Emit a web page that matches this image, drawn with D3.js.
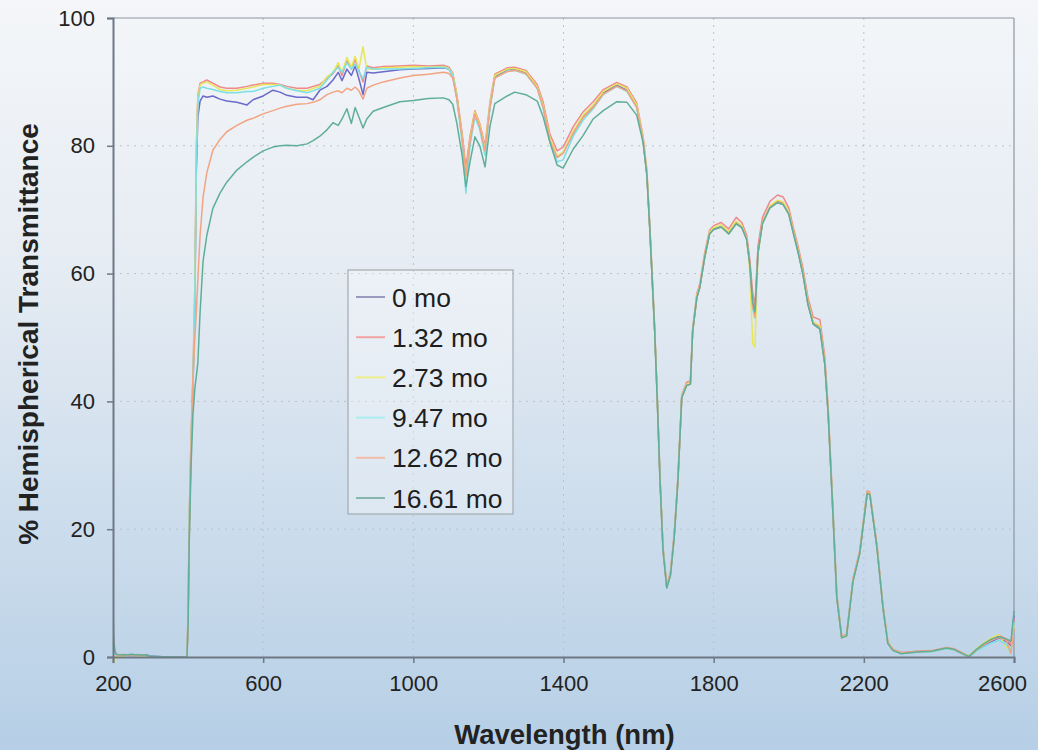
<!DOCTYPE html>
<html>
<head>
<meta charset="utf-8">
<script src="https://cdn.jsdelivr.net/npm/d3@7/dist/d3.min.js"></script>
<style>
  body { margin: 0; }
  svg { display: block; font-family: "Liberation Sans", Arial, sans-serif; }
</style>
</head>
<body>
<svg id="chart" width="1038" height="750"></svg>
<script>
// wavelengths (nm) shared by all series
const wl = [
  200, 202, 205, 210, 230, 250, 270, 290, 300, 350, 397,
  400, 403, 408, 413, 418, 422, 426, 432, 440, 450,
  466, 485, 503, 530, 557, 573, 600, 626, 645, 663,
  690, 717, 733, 751, 770, 786, 800, 810, 823, 835,
  845, 855, 866, 876, 893, 920, 964, 1000, 1040, 1080,
  1095,
  1105, 1116, 1130, 1140, 1151, 1164, 1177, 1191, 1204, 1217,
  1250, 1270, 1300, 1330, 1346, 1364, 1383, 1399, 1426, 1452,
  1479, 1506, 1542, 1569, 1595, 1612, 1622, 1630, 1643, 1650,
  1657, 1665, 1675, 1685, 1695, 1705, 1715, 1728, 1738, 1744,
  1755, 1763, 1776, 1789, 1800, 1820, 1840, 1860, 1875, 1888,
  1896, 1904, 1910, 1918, 1930, 1950, 1970, 1985, 2000, 2011,
  2025, 2038, 2051, 2065, 2083, 2096, 2105, 2115, 2128, 2141,
  2154, 2171, 2189, 2209, 2216, 2235, 2251, 2264, 2278, 2300,
  2340, 2380, 2420, 2440, 2460, 2480, 2500, 2520, 2540, 2560,
  2580, 2592, 2600
];

const mo0 = [
  5, 2, 0.8, 0.4, 0.3, 0.4, 0.3, 0.3, 0.1, 0, 0,
  6, 20, 33, 42, 55, 76, 84.5, 87, 87.8, 87.6,
  87.8, 87.3, 87, 86.8, 86.4, 87.2, 87.8, 88.7, 88.4, 87.9,
  87.6, 87.6, 87.2, 88.7, 89.3, 90.3, 91.5, 90.2, 92, 91,
  92.5, 90.5, 88, 91.5, 91.4, 91.6, 91.9, 92, 92.1, 92.2,
  92,
  91, 87.6, 81.4, 75.7, 80.9, 85.1, 83, 79.3, 86.1, 90.8,
  91.9, 92, 91.4, 89.2, 86.1, 80.9, 78.2, 78.9, 82, 84.5,
  86.1, 88.3, 89.5, 88.7, 86.1, 80.9, 75.7, 67, 51, 40,
  28, 17, 11, 13, 19, 28, 40.7, 42.6, 42.8, 51,
  56.3, 57.9, 62.6, 66.3, 67, 67.4, 66.3, 68, 67.3, 65.5,
  61.7, 55, 53.5, 63.5, 68, 70.5, 71.3, 71, 69.5, 66.8,
  63.5, 60, 55.4, 52.3, 51.6, 46, 38.2, 26, 9.4, 3.1,
  3.4, 12, 16.3, 25.7, 25.5, 17.2, 7.8, 2.2, 1.1, 0.6,
  0.8, 0.9, 1.4, 1.2, 0.6, 0, 1.0, 1.8, 2.4, 3.0,
  2.4, 1.8, 6.5
];

const mo132 = [
  3, 1.5, 0.5, 0.3, 0.4, 0.3, 0.4, 0.2, 0, 0, 0,
  7, 22, 35, 44, 58, 80, 88, 89.8, 90, 90.3,
  89.8, 89.2, 89, 89, 89.3, 89.5, 89.8, 89.8, 89.6, 89.3,
  89, 89, 89.3, 89.6, 90.5, 91.3, 92.5, 91, 93.3, 92,
  93.5, 91.8, 90, 92.5, 92.2, 92.4, 92.5, 92.6, 92.5, 92.6,
  92.3,
  91.4, 88, 82, 76.5, 81.5, 85.5, 83.5, 80, 86.8, 91.2,
  92.2, 92.3, 91.8, 89.6, 86.8, 81.8, 79.2, 79.8, 83, 85.3,
  86.9, 88.8, 89.9, 89.2, 86.7, 81.5, 76.3, 67.5, 51.5, 40.5,
  28.3, 17.2, 11.2, 13.3, 19.3, 28.3, 41, 43, 43.2, 51.4,
  56.8, 58.4, 63.2, 66.8, 67.5, 68, 67, 68.8, 68, 66,
  62.3, 57, 55, 64.3, 68.8, 71.3, 72.3, 72, 70.3, 67.5,
  64.2, 60.8, 56.3, 53.2, 52.8, 47, 39, 26.8, 9.8, 3.3,
  3.5, 12.2, 16.6, 26, 25.8, 17.5, 8, 2.4, 1.2, 0.7,
  0.9, 1.0, 1.5, 1.3, 0.7, 0.1, 1.2, 2.0, 2.8, 3.4,
  2.8, 2.0, 6.0
];

const mo273 = [
  2, -0.5, -0.8, 0.1, 0.2, 0.3, 0.2, 0.2, 0, 0, 0,
  6.5, 21, 34, 43, 57, 79, 87.5, 89.5, 89.8, 90,
  89.5, 88.8, 88.6, 88.7, 89, 89.2, 89.6, 89.6, 89.5, 89,
  88.7, 88.6, 89, 89.3, 90.8, 91.5, 93, 91.5, 93.8, 92.3,
  94, 92, 95.5, 92, 92, 92.2, 92.3, 92.4, 92.3, 92.4,
  92.1,
  91.2, 87.8, 81.5, 75.2, 81, 85.3, 83.2, 79.5, 86.5, 91,
  92, 92.1, 91.6, 89.3, 86.3, 81.2, 78.4, 79, 82.3, 84.8,
  86.4, 88.5, 89.7, 89, 86.4, 81.2, 76, 67.2, 51.2, 40.2,
  28, 17, 11, 13, 19, 28, 40.8, 42.7, 42.9, 51.1,
  56.5, 58, 62.8, 66.5, 67.2, 67.6, 66.6, 68.2, 67.5, 65.5,
  60.5, 49, 48.5, 63, 68, 70.6, 71.5, 71.2, 69.7, 67,
  63.7, 60.2, 55.6, 52.5, 51.8, 46.2, 38.4, 26.2, 9.5, 3.1,
  3.4, 12, 16.4, 25.8, 25.6, 17.3, 7.9, 2.3, 1.1, 0.6,
  0.8, 0.9, 1.4, 1.2, 0.6, 0.2, 1.3, 2.2, 3.0, 3.5,
  1.5, 0.8, 5
];

const mo947 = [
  4, 1, 0.4, 0.3, 0.3, 0.3, 0.3, 0.2, 0, 0, 0,
  6, 21, 34, 43, 56, 78, 86.5, 89, 89.2, 89,
  88.8, 88.5, 88.3, 88.3, 88.5, 88.5, 89, 89.3, 89.5, 89,
  88.6, 88.3, 88.6, 89, 90.3, 91.5, 92.3, 91.5, 93, 92,
  92.8, 91.6, 90.5, 92.3, 92, 92, 92, 92.1, 92.2, 92.3,
  92,
  91, 87.3, 80.5, 72.6, 80, 84.6, 82.5, 78.5, 85.8, 90.6,
  91.7, 91.8, 91.2, 89, 85.8, 80.5, 77.5, 77.8, 81.5, 84,
  85.8, 88, 89.3, 88.5, 86, 80.8, 75.5, 66.8, 50.8, 39.8,
  27.8, 16.8, 10.8, 12.8, 18.8, 27.8, 40.6, 42.5, 42.7, 50.9,
  56.2, 57.8, 62.5, 66.2, 66.9, 67.3, 66.2, 67.8, 67.2, 65.3,
  61.5, 54.5, 53, 63.2, 67.8, 70.3, 71.1, 70.8, 69.3, 66.6,
  63.3, 59.8, 55.2, 52.1, 51.3, 45.8, 38, 25.8, 9.3, 3,
  3.3, 11.8, 16.2, 25.6, 25.4, 17.1, 7.7, 2.1, 1, 0.5,
  0.7, 0.8, 1.3, 1.1, 0.5, -0.1, 0.9, 1.6, 2.2, 2.6,
  2.0, 0.5, 5.5
];

const mo1262 = [
  -1, 3, 1, 0.2, 0.3, 0.2, 0.3, 0.2, 0, 0, 0,
  5, 18, 33, 44, 50, 54, 59, 66, 72, 75.8,
  79.3, 81, 82.2, 83.2, 84, 84.3, 85, 85.5, 85.9, 86.2,
  86.5, 86.6, 86.8, 87.2, 88, 88.4, 88.6, 88.3, 89, 88.7,
  89.2, 88.6, 87.3, 89, 89.5, 90, 90.6, 91, 91.2, 91.5,
  91.3,
  90.6, 87.3, 81.2, 75.3, 80.7, 85, 82.9, 79.2, 86, 90.6,
  91.6, 91.8, 91.3, 89, 86, 80.8, 78.2, 78.8, 82, 84.4,
  86, 88.1, 89.3, 88.6, 86, 80.8, 75.6, 66.9, 50.9, 39.9,
  27.9, 16.9, 10.9, 12.9, 18.9, 27.9, 40.6, 42.5, 42.7, 50.9,
  56.2, 57.8, 62.5, 66.2, 66.9, 67.3, 66.3, 67.9, 67.2, 65.4,
  61.6, 54.8, 53.2, 63.3, 67.9, 70.4, 71.2, 70.9, 69.4, 66.7,
  63.4, 59.9, 55.3, 52.2, 51.4, 45.9, 38.1, 25.9, 9.3, 3,
  3.3, 11.9, 16.3, 25.7, 25.5, 17.2, 7.8, 2.2, 1.1, 0.6,
  0.8, 0.9, 1.4, 1.2, 0.6, 0, 1.1, 1.9, 2.6, 3.1,
  2.6, 0.6, 4.5
];

const mo1661 = [
  8, 2.5, 0.8, 0.4, 0.3, 0.4, 0.3, 0.3, 0.1, 0, 0,
  5, 18, 30, 38, 42, 44, 46, 54, 62, 66,
  70.2, 72.6, 74.3, 76.2, 77.5, 78.2, 79.2, 79.8, 80, 80.1,
  80, 80.3, 80.8, 81.5, 82.5, 83.6, 83.2, 84.2, 85.8, 83.5,
  86, 84.5, 82.8, 84.2, 85.4, 86, 86.9, 87.1, 87.4, 87.5,
  87.2,
  86.5, 83.5, 78.5, 73.6, 77.5, 81.4, 80, 76.7, 83, 86.6,
  87.8, 88.4, 88, 87, 84.5, 80.5, 77, 76.5, 79.5, 81.6,
  84.2, 85.5, 86.9, 86.8, 84.8, 80.5, 75.4, 66.8, 50.8, 39.8,
  27.8, 16.8, 10.8, 12.8, 18.8, 27.8, 40.6, 42.5, 42.7, 50.9,
  56.2, 57.8, 62.5, 66.2, 66.9, 67.3, 66.2, 67.8, 67.2, 65.3,
  61.6, 55.5, 54, 63.2, 67.8, 70.3, 71.1, 70.8, 69.3, 66.6,
  63.3, 59.8, 55.2, 52.1, 51.3, 45.8, 38, 25.8, 9.3, 3,
  3.3, 11.8, 16.2, 25.6, 25.4, 17.1, 7.7, 2.1, 1, 0.5,
  0.8, 0.9, 1.4, 1.2, 0.6, 0.1, 1.2, 2.1, 2.8, 3.2,
  2.8, 2.5, 7.2
];

const seriesNames = ["0 mo", "1.32 mo", "2.73 mo", "9.47 mo", "12.62 mo", "16.61 mo"];
const seriesValues = [mo0, mo132, mo273, mo947, mo1262, mo1661];
const seriesColors = ["#6a6ac8", "#f08a8a", "#e6e65a", "#7ae0e6", "#f2a482", "#5fae98"];
const legendColors = ["#9a9abf", "#f0a4a4", "#eeee88", "#a8eef0", "#f2bca8", "#86b6ac"];

const xTicks = [200, 600, 1000, 1400, 1800, 2200, 2600];
const yTicks = [0, 20, 40, 60, 80, 100];

const svg = d3.select("#chart");
const W = +svg.attr("width"), H = +svg.attr("height");
const m = { top: 18, right: 24, bottom: 93, left: 113 };
const width = W - m.left - m.right;
const height = H - m.top - m.bottom;

// background gradient
const defs = svg.append("defs");
const grad = defs.append("linearGradient")
  .attr("id", "bg").attr("x1", 0).attr("y1", 0).attr("x2", 0).attr("y2", 1);
grad.append("stop").attr("offset", "0%").attr("stop-color", "#f4f6f9");
grad.append("stop").attr("offset", "35%").attr("stop-color", "#e6ecf3");
grad.append("stop").attr("offset", "100%").attr("stop-color", "#b6cfe6");
svg.append("rect").attr("width", W).attr("height", H).attr("fill", "url(#bg)");

defs.append("clipPath").attr("id", "clip")
  .append("rect").attr("x", 0).attr("y", -2).attr("width", width + 1).attr("height", height + 12);

const g = svg.append("g").attr("transform", `translate(${m.left},${m.top})`);

const x = d3.scaleLinear().domain([200, 2600]).range([0, width]);
const y = d3.scaleLinear().domain([0, 100]).range([height, 0]);

// grid
g.append("g").selectAll("line").data(yTicks.filter(d => d > 0 && d < 100)).join("line")
  .attr("x1", 0).attr("x2", width)
  .attr("y1", d => y(d)).attr("y2", d => y(d))
  .attr("stroke", "#b9c2cc").attr("stroke-width", 1).attr("stroke-dasharray", "2,5");
g.append("g").selectAll("line").data(xTicks.filter(d => d > 200 && d < 2600)).join("line")
  .attr("x1", d => x(d)).attr("x2", d => x(d))
  .attr("y1", 0).attr("y2", height)
  .attr("stroke", "#b9c2cc").attr("stroke-width", 1).attr("stroke-dasharray", "2,5");

// frame top/right
g.append("line").attr("x1", 0).attr("x2", width).attr("y1", 0).attr("y2", 0)
  .attr("stroke", "#8e96a2").attr("stroke-width", 1.2);
g.append("line").attr("x1", width).attr("x2", width).attr("y1", 0).attr("y2", height)
  .attr("stroke", "#8e96a2").attr("stroke-width", 1.2);

// series
const line = d3.line()
  .x((d, i) => x(wl[i]))
  .y(d => y(d));

g.append("g").attr("clip-path", "url(#clip)")
  .selectAll("path").data(seriesValues).join("path")
  .attr("d", d => line(d))
  .attr("fill", "none")
  .attr("stroke", (d, i) => seriesColors[i])
  .attr("stroke-width", 1.5)
  .attr("stroke-linejoin", "round");

// axes
const xAxis = g.append("g").attr("transform", `translate(0,${height})`)
  .call(d3.axisBottom(x).tickValues(xTicks).tickSize(6).tickPadding(12).tickFormat(d3.format("d")));
const yAxis = g.append("g")
  .call(d3.axisLeft(y).tickValues(yTicks).tickSize(6).tickPadding(12));
[xAxis, yAxis].forEach(a => {
  a.select(".domain").attr("stroke", "#6f7886").attr("stroke-width", 2);
  a.selectAll(".tick line").attr("stroke", "#6f7886").attr("stroke-width", 1.5);
  a.selectAll(".tick text").attr("fill", "#222")
    .style("font-size", "22px").style("font-family", "'Liberation Sans', Arial, sans-serif");
});
// last x label sits inside the picture
xAxis.selectAll(".tick text").filter(d => d === 2600).attr("dx", -12);

// axis titles
svg.append("text")
  .attr("x", m.left + width / 2 + 1).attr("y", 744)
  .attr("text-anchor", "middle")
  .style("font-size", "27.5px").style("font-weight", "bold").attr("fill", "#222")
  .text("Wavelength (nm)");
svg.append("text")
  .attr("transform", `translate(38,334) rotate(-90)`)
  .attr("text-anchor", "middle")
  .style("font-size", "28px").style("font-weight", "bold").attr("fill", "#222")
  .text("% Hemispherical Transmittance");

// legend
const lg = svg.append("g").attr("transform", "translate(348,270)");
lg.append("rect").attr("width", 165).attr("height", 244)
  .attr("fill", "#ffffff").attr("fill-opacity", 0.3)
  .attr("stroke", "#a4aab2").attr("stroke-width", 1.2);
const items = lg.selectAll("g.item").data(seriesNames).join("g")
  .attr("class", "item")
  .attr("transform", (d, i) => `translate(0,${27 + i * 40.2})`);
items.append("line").attr("x1", 8).attr("x2", 37).attr("y1", 0).attr("y2", 0)
  .attr("stroke", (d, i) => legendColors[i]).attr("stroke-width", 2);
items.append("text").attr("x", 44).attr("y", 9.5)
  .style("font-size", "26.5px").attr("fill", "#1e1e1e")
  .text(d => d);
</script>
</body>
</html>
